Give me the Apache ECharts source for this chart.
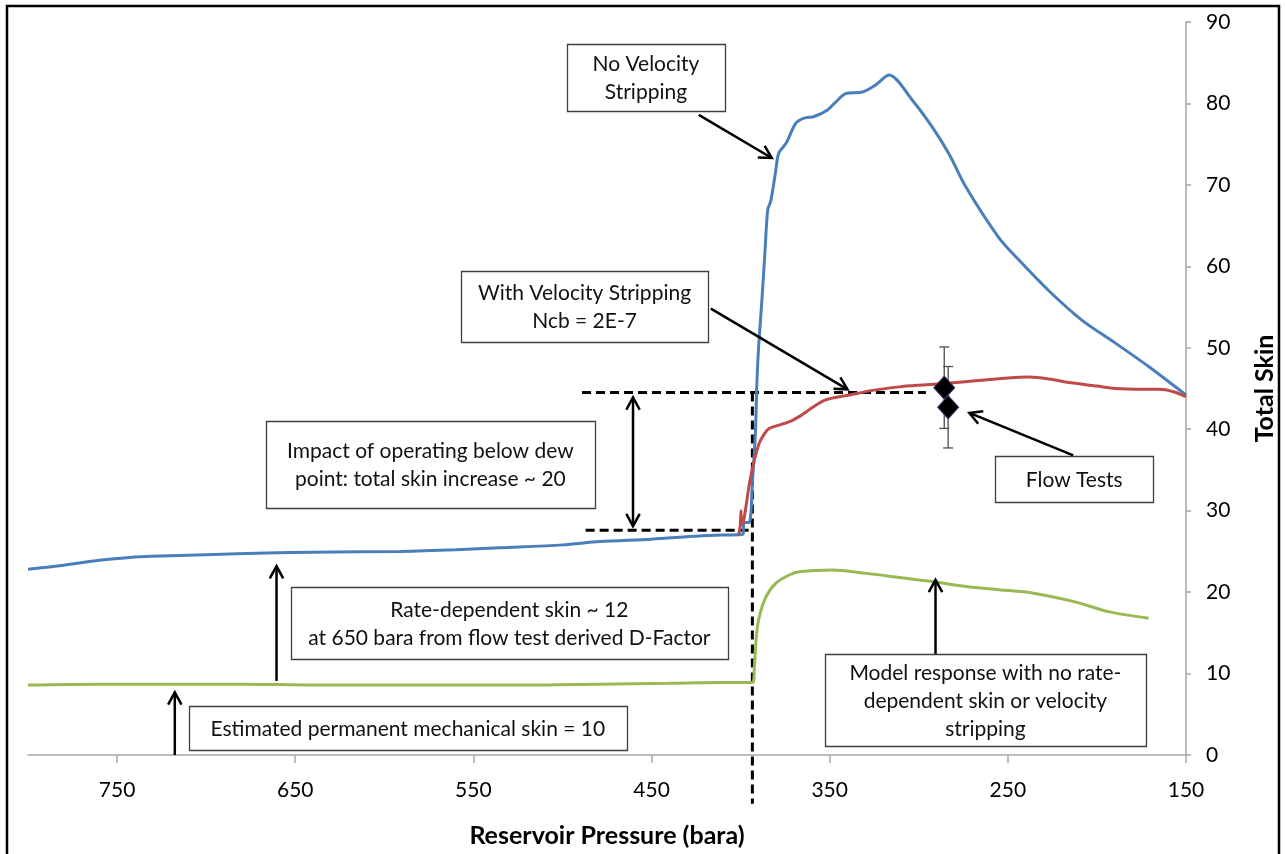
<!DOCTYPE html>
<html>
<head>
<meta charset="utf-8">
<title>Total Skin vs Reservoir Pressure</title>
<script src="https://cdn.jsdelivr.net/npm/echarts@6/dist/echarts.min.js"></script>
<style>
  html, body { margin: 0; padding: 0; background: #ffffff; }
  #chart { width: 1285px; height: 854px; }
</style>
</head>
<body>
<div id="chart"></div>
<script>
// Reservoir pressure (bara) on a reversed x axis, total skin on the right-hand y axis.
const pressureTicks = [150, 250, 350, 450, 550, 650, 750];

// Total skin, no velocity stripping: [pressure, skin]
const noStripping = [
  [800, 22.8], [780, 23.3], [760, 23.9], [740, 24.3], [731, 24.4], [700, 24.6],
  [666, 24.8], [640, 24.9], [591, 25.0], [560, 25.2], [535, 25.45], [500, 25.8],
  [479, 26.2], [450, 26.5], [423, 26.9], [410, 27.0], [398.6, 27.1], [398.2, 28.5],
  [395, 28.6], [393.4, 33.4], [391.7, 39.5], [391, 44.8], [390, 49.7], [388, 56.0],
  [386.3, 61.9], [384.8, 66.9], [383, 68.1], [380.5, 71.4], [378.6, 73.9], [374.5, 75.1],
  [368.9, 77.6], [364.3, 78.2], [358.7, 78.4], [351.2, 79.2], [346.5, 80.2], [341, 81.2],
  [331.6, 81.4], [324, 82.3], [316.7, 83.5], [303.6, 80.4], [292.4, 77.1], [283, 73.8],
  [273.7, 69.8], [255, 63.5], [243.9, 60.8], [227, 57.0], [208.5, 53.4], [189.8, 50.6],
  [171, 47.7], [150, 44.2]
];

// Total skin with velocity stripping, Ncb = 2E-7 (same as above until the dew point)
const withStripping = [
  [401, 27.1], [400.2, 28.2], [399.8, 30.0], [399.4, 28.3], [398.5, 28.6], [397, 30.5],
  [395, 33.4], [392.3, 36.2], [389.5, 38.3], [386.5, 39.5], [383.9, 40.1], [377, 40.6],
  [370.9, 41.1], [366, 41.7], [361.5, 42.4], [352.3, 43.6], [339, 44.2], [325, 44.8],
  [311, 45.2], [300, 45.4], [286, 45.6], [265, 46.0], [250, 46.3], [238, 46.4],
  [225, 46.1], [217.7, 45.8], [200, 45.3], [189.8, 45.0], [175, 44.9], [165, 44.9],
  [157, 44.6], [150, 44.0]
];

// Model response with no rate-dependent skin or velocity stripping
const noRateDependent = [
  [800, 8.6], [760, 8.7], [720, 8.7], [680, 8.7], [640, 8.6], [600, 8.6], [560, 8.6],
  [520, 8.6], [480, 8.7], [440, 8.8], [410, 8.9], [393.2, 8.9], [392.3, 10.8],
  [391, 14.9], [389.5, 17.0], [385.8, 19.4], [380.2, 21.1], [372.7, 22.1], [367.1, 22.5],
  [348.4, 22.7], [329.7, 22.3], [311, 21.8], [292.4, 21.3], [273.7, 20.7], [255, 20.3],
  [236.4, 19.9], [212.2, 18.8], [193.5, 17.6], [171, 16.8]
];

// Flow tests: [pressure, skin, error]
const flowTests = [[285.7, 45.1, 5], [283.5, 42.7, 5]];

// Dew point guides
const guideUpper = [[489, 44.5], [296, 44.5]];
const guideLower = [[487, 27.6], [393.4, 27.6]];
const guideDewPoint = [[393.4, 44.5], [393.4, -6.0]];

// Annotation boxes: corners in [pressure, skin]
const notes = [
  { text: 'No Velocity\nStripping', a: [497.4, 87.3], b: [408.9, 79.1] },
  { text: 'With Velocity Stripping\nNcb = 2E-7', a: [556.8, 59.4], b: [418.4, 50.7] },
  { text: 'Impact of operating below dew\npoint: total skin increase ~ 20', a: [666.6, 41.0], b: [481.7, 30.3] },
  { text: 'Flow Tests', a: [257.0, 36.7], b: [168.5, 31.1] },
  { text: 'Rate-dependent skin ~ 12\nat 650 bara from flow test derived D-Factor', a: [652.4, 20.6], b: [407.2, 11.8] },
  { text: 'Estimated permanent mechanical skin = 10', a: [709.8, 6.0], b: [463.8, 0.6] },
  { text: 'Model response with no rate-\ndependent skin or velocity\nstripping', a: [352.8, 12.4], b: [172.4, 1.1] }
];

// Pointer arrows: from -> to, in [pressure, skin]; both = heads at each end
const arrows = [
  { from: [423.5, 78.6], to: [382.5, 73.3] },
  { from: [416.7, 54.8], to: [340.0, 44.9] },
  { from: [213.3, 36.8], to: [271.6, 42.0] },
  { from: [660.5, 9.1], to: [660.5, 23.2] },
  { from: [717.6, 0.0], to: [717.6, 7.7] },
  { from: [290.6, 12.4], to: [290.6, 21.5] },
  { from: [460.4, 28.1], to: [460.4, 43.9], both: true }
];

const FONT = 'Lato, "Open Sans", sans-serif';
const chart = echarts.init(document.getElementById('chart'), null, { renderer: 'canvas' });

const dashStyle = { color: '#000000', width: 3, type: [9, 5] };

chart.setOption({
  backgroundColor: '#ffffff',
  animation: false,
  grid: { left: 28, right: 97, top: 22, bottom: 99, containLabel: false },
  xAxis: {
    type: 'value',
    inverse: true,
    min: 150,
    max: 800,
    interval: 100,
    name: 'Reservoir Pressure (bara)',
    nameLocation: 'middle',
    nameGap: 68,
    nameTextStyle: { fontFamily: FONT, fontWeight: 'bold', fontSize: 25, color: '#000' },
    axisLine: { show: true, onZero: false, lineStyle: { color: '#a6a6a6', width: 1.5 } },
    axisTick: { show: true, inside: false, length: 8, customValues: pressureTicks, lineStyle: { color: '#a6a6a6', width: 1.5 } },
    axisLabel: { margin: 25, customValues: pressureTicks, fontFamily: FONT, fontSize: 21, color: '#000' },
    splitLine: { show: false }
  },
  yAxis: {
    type: 'value',
    position: 'right',
    min: 0,
    max: 90,
    interval: 10,
    name: 'Total Skin',
    nameLocation: 'middle',
    nameRotate: 90,
    nameGap: 66,
    nameTextStyle: { fontFamily: FONT, fontWeight: 'bold', fontSize: 25, color: '#000' },
    axisLine: { show: true, onZero: false, lineStyle: { color: '#a6a6a6', width: 1.5 } },
    axisTick: { show: true, inside: false, length: 5, lineStyle: { color: '#a6a6a6', width: 1.5 } },
    axisLabel: { margin: 20, fontFamily: FONT, fontSize: 21, color: '#000' },
    splitLine: { show: false }
  },
  series: [
    {
      name: 'No Velocity Stripping', type: 'line', data: noStripping,
      showSymbol: false, smooth: 0.3,
      lineStyle: { color: '#4a7ebb', width: 3 }, z: 3
    },
    {
      name: 'With Velocity Stripping', type: 'line', data: withStripping,
      showSymbol: false, smooth: 0.3,
      lineStyle: { color: '#be4b48', width: 3 }, z: 4
    },
    {
      name: 'No rate-dependent skin', type: 'line', data: noRateDependent,
      showSymbol: false, smooth: 0.3,
      lineStyle: { color: '#98b954', width: 3 }, z: 3
    },
    { name: 'guide-upper', type: 'line', data: guideUpper, showSymbol: false, lineStyle: dashStyle, z: 2 },
    { name: 'guide-lower', type: 'line', data: guideLower, showSymbol: false, lineStyle: dashStyle, z: 2 },
    { name: 'guide-dew', type: 'line', data: guideDewPoint, showSymbol: false, clip: false, lineStyle: dashStyle, z: 2 },
    {
      name: 'Flow test error', type: 'custom', data: flowTests, z: 5,
      encode: { x: 0, y: 1 },
      renderItem: function (params, api) {
        const x = api.value(0), y = api.value(1), e = api.value(2);
        const top = api.coord([x, y + e]);
        const bot = api.coord([x, y - e]);
        const w = 5;
        const st = { stroke: '#4d4d4d', lineWidth: 1.3 };
        return {
          type: 'group',
          children: [
            { type: 'line', shape: { x1: top[0], y1: top[1], x2: bot[0], y2: bot[1] }, style: st },
            { type: 'line', shape: { x1: top[0] - w, y1: top[1], x2: top[0] + w, y2: top[1] }, style: st },
            { type: 'line', shape: { x1: bot[0] - w, y1: bot[1], x2: bot[0] + w, y2: bot[1] }, style: st }
          ]
        };
      }
    },
    {
      name: 'Flow Tests', type: 'scatter', data: flowTests.map(function (d) { return [d[0], d[1]]; }),
      symbol: 'diamond', symbolSize: [21, 23], z: 6,
      itemStyle: { color: '#000000', opacity: 1, borderColor: '#3b2c63', borderWidth: 1 }
    }
  ]
});

// Annotation boxes and arrows, placed through the chart's own coordinate system
function px(pt) { return chart.convertToPixel({ xAxisIndex: 0, yAxisIndex: 0 }, pt); }

function arrowHead(tip, from, size) {
  const ang = Math.atan2(tip[1] - from[1], tip[0] - from[0]);
  const spread = 0.5;
  return [
    [tip[0] - size * Math.cos(ang - spread), tip[1] - size * Math.sin(ang - spread)],
    [tip[0], tip[1]],
    [tip[0] - size * Math.cos(ang + spread), tip[1] - size * Math.sin(ang + spread)]
  ];
}

const elements = [];

// outer frame
elements.push({
  type: 'rect', z: 100, silent: true,
  shape: { x: 7, y: 6, width: 1272, height: 880 },
  style: { fill: null, stroke: '#000000', lineWidth: 2.5 }
});

notes.forEach(function (n) {
  const p1 = px(n.a), p2 = px(n.b);
  const x = Math.min(p1[0], p2[0]), y = Math.min(p1[1], p2[1]);
  const w = Math.abs(p2[0] - p1[0]), h = Math.abs(p2[1] - p1[1]);
  elements.push({
    type: 'rect', z: 50,
    shape: { x: Math.round(x) + 0.5, y: Math.round(y) + 0.5, width: Math.round(w), height: Math.round(h) },
    style: { fill: '#ffffff', stroke: '#3f3f3f', lineWidth: 1.3 }
  });
  elements.push({
    type: 'text', z: 51,
    style: {
      text: n.text, x: x + w / 2, y: y + h / 2 + 1,
      align: 'center', verticalAlign: 'middle',
      fontFamily: 'Lato', fontSize: 21, lineHeight: 28, fill: '#111111'
    }
  });
});

arrows.forEach(function (a) {
  const f = px(a.from), t = px(a.to);
  const st = { stroke: '#000000', lineWidth: 2.5, fill: null };
  elements.push({ type: 'line', z: 40, shape: { x1: f[0], y1: f[1], x2: t[0], y2: t[1] }, style: st });
  elements.push({ type: 'polyline', z: 40, shape: { points: arrowHead(t, f, 14) }, style: st });
  if (a.both) {
    elements.push({ type: 'polyline', z: 40, shape: { points: arrowHead(f, t, 14) }, style: st });
  }
});

chart.setOption({ graphic: { elements: elements } });
</script>
</body>
</html>
